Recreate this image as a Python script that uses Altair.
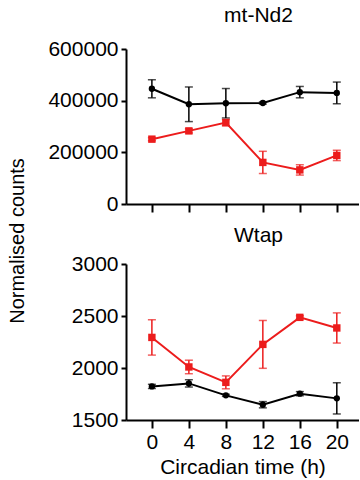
import altair as alt
import pandas as pd

times = [0, 4, 8, 12, 16, 20]

nd2_black = [446000, 386000, 390000, 391000, 433000, 430000]
nd2_black_err = [35000, 67000, 57000, 4000, 22000, 42000]
nd2_red = [251000, 283000, 315000, 161000, 132000, 188000]
nd2_red_err = [6000, 8000, 12000, 43000, 20000, 20000]

wtap_black = [1823, 1852, 1737, 1647, 1753, 1708]
wtap_black_err = [20, 35, 10, 30, 20, 150]
wtap_red = [2294, 2010, 1862, 2227, 2487, 2385]
wtap_red_err = [170, 65, 62, 230, 15, 145]

FONT = "Liberation Sans"


def make_df(black, black_err, red, red_err):
    rows = []
    for t, v, e in zip(times, black, black_err):
        rows.append({"t": t, "v": v, "lo": v - e, "hi": v + e, "g": "black"})
    for t, v, e in zip(times, red, red_err):
        rows.append({"t": t, "v": v, "lo": v - e, "hi": v + e, "g": "red"})
    return pd.DataFrame(rows)


def panel(df, title, ydomain, yticks, show_xlabels, height, title_offset):
    xscale = alt.Scale(domain=[-2.8, 22.4], nice=False, zero=False)
    yscale = alt.Scale(domain=ydomain, nice=False, zero=False)
    xaxis = alt.Axis(
        values=times,
        labels=show_xlabels,
        title="Circadian time (h)" if show_xlabels else None,
        tickSize=8,
        labelPadding=3,
        titlePadding=4,
    )
    yaxis = alt.Axis(values=yticks, format="d", title=None, tickSize=5, labelPadding=3)
    colors = alt.Scale(domain=["black", "red"], range=["#000000", "#ec1c1c"])
    base = alt.Chart(df)
    x = alt.X("t:Q", scale=xscale, axis=xaxis)
    col = alt.Color("g:N", scale=colors, legend=None)
    rule = base.mark_rule(strokeWidth=1.5).encode(
        x=x, y=alt.Y("lo:Q", scale=yscale, axis=yaxis), y2="hi:Q", color=col,
    )
    cap_lo = base.mark_tick(orient="horizontal", size=8, thickness=1.5).encode(
        x=x, y=alt.Y("lo:Q", scale=yscale, axis=yaxis), color=col,
    )
    cap_hi = base.mark_tick(orient="horizontal", size=8, thickness=1.5).encode(
        x=x, y=alt.Y("hi:Q", scale=yscale, axis=yaxis), color=col,
    )
    line = base.mark_line(strokeWidth=2).encode(
        x=x, y=alt.Y("v:Q", scale=yscale, axis=yaxis), color=col, detail="g:N",
    )
    pts = base.mark_point(filled=True, opacity=1).encode(
        x=x, y=alt.Y("v:Q", scale=yscale, axis=yaxis), color=col,
        shape=alt.Shape("g:N", scale=alt.Scale(domain=["black", "red"], range=["circle", "square"]), legend=None),
        size=alt.Size("g:N", scale=alt.Scale(domain=["black", "red"], range=[40, 55]), legend=None),
    )
    return alt.layer(rule, cap_lo, cap_hi, line, pts).properties(
        width=233,
        height=height,
        title=alt.TitleParams(title, fontSize=21, fontWeight="normal", font=FONT, dx=16, offset=title_offset),
    )


df_top = make_df(nd2_black, nd2_black_err, nd2_red, nd2_red_err)
df_bot = make_df(wtap_black, wtap_black_err, wtap_red, wtap_red_err)

top = panel(df_top, "mt-Nd2", [0, 600000], [0, 200000, 400000, 600000], False, 155, 12)
bot = panel(df_bot, "Wtap", [1500, 3000], [1500, 2000, 2500, 3000], True, 156, 7)

chart = alt.vconcat(top, bot, spacing=11).properties(
    title=alt.TitleParams(
        "Normalised counts", orient="left", anchor="middle", fontSize=20, font=FONT,
        fontWeight="normal", color="black", offset=20,
    ),
    padding={"left": 7, "top": 5, "right": 0, "bottom": 5},
).configure_view(stroke=None).configure_axis(
    grid=False,
    domainColor="black",
    domainWidth=2,
    tickColor="black",
    tickWidth=2,
    labelColor="black",
    labelFont=FONT,
    labelFontSize=21,
    titleFont=FONT,
    titleFontSize=21,
    titleFontWeight="normal",
    titleColor="black",
)

chart.save("out.html", embed_options={"renderer": "svg", "actions": False})
